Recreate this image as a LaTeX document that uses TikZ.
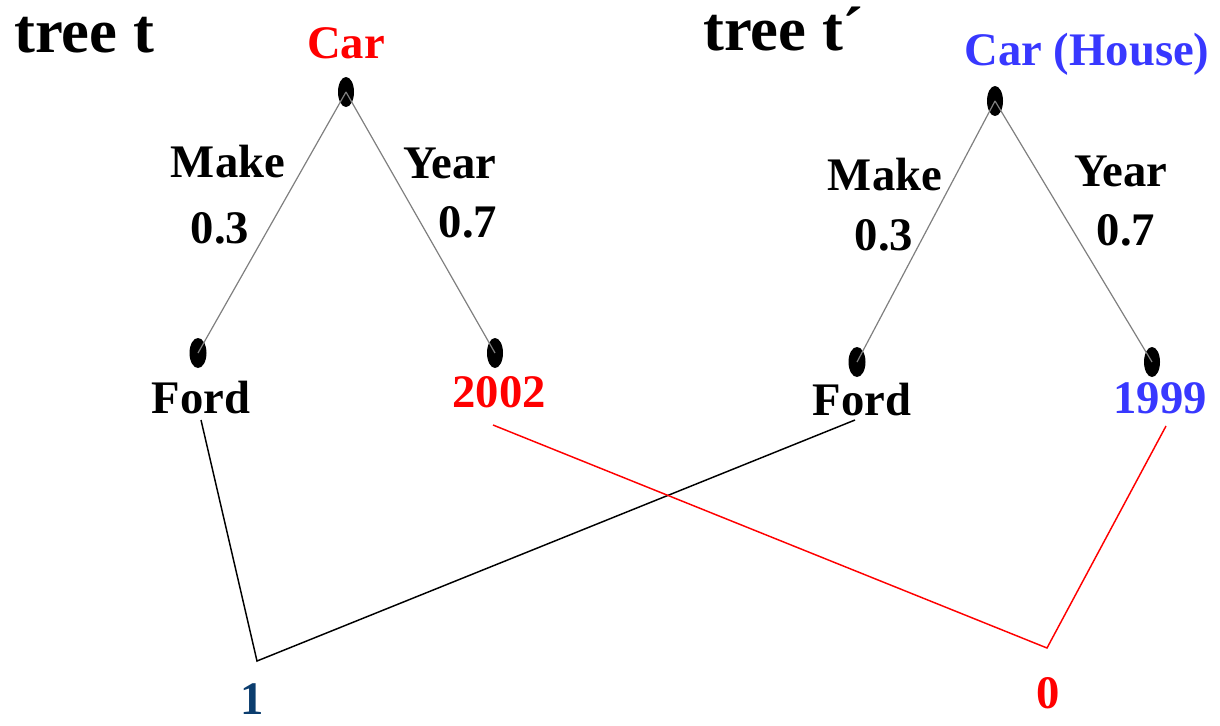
\documentclass[tikz,border=0pt]{standalone}
\usepackage{fontspec}
\setmainfont{Liberation Serif}
\definecolor{tblue}{HTML}{3838FF}
\definecolor{navy}{HTML}{0B3D6E}
\definecolor{edgegray}{HTML}{7F7F7F}
\begin{document}
\begin{tikzpicture}[x=0.75pt,y=-0.75pt,
  lbl/.style={inner sep=0pt,anchor=base,font=\fontsize{35}{40}\selectfont\bfseries},
  ttl/.style={inner sep=0pt,anchor=base west,font=\fontsize{47}{52}\selectfont\bfseries},
  treeedge/.style={draw=edgegray,line width=0.9pt},
  match/.style={line width=1.1pt}]
\useasboundingbox (0,0) rectangle (1220,725);
% titles
\node[ttl] (titleL) at (14,52) {tree t};
\node[ttl] (titleR) at (703,50) {tree t´};
% root labels
\node[lbl,text=red] (carL) at (346,58) {Car};
\node[lbl,text=tblue] (carR) at (1087,65) {Car (House)};
% dots
\fill (346,92) ellipse [x radius=8,y radius=15];
\coordinate (rootL) at (346,92);
\fill (198,353) ellipse [x radius=8.5,y radius=15];
\coordinate (fordLd) at (198,353);
\fill (495,353) ellipse [x radius=8,y radius=15];
\coordinate (yearLd) at (495,353);
\fill (995,101) ellipse [x radius=8,y radius=15];
\coordinate (rootR) at (995,101);
\fill (857,362) ellipse [x radius=8.5,y radius=15];
\coordinate (fordRd) at (857,362);
\fill (1152,362) ellipse [x radius=8,y radius=15];
\coordinate (yearRd) at (1152,362);
% tree edges
\draw[treeedge] (rootL) -- (fordLd);
\draw[treeedge] (rootL) -- (yearLd);
\draw[treeedge] (rootR) -- (fordRd);
\draw[treeedge] (rootR) -- (yearRd);
% edge labels
\node[lbl] (makeL) at (228,177) {Make};
\node[lbl] (wmL) at (220,243) {0.3};
\node[lbl] (yearL) at (450,178) {Year};
\node[lbl] (wyL) at (468,237) {0.7};
\node[lbl] (makeR) at (885,190) {Make};
\node[lbl] (wmR) at (884,250) {0.3};
\node[lbl] (yearR) at (1121,186) {Year};
\node[lbl] (wyR) at (1126,245) {0.7};
% leaf labels
\node[lbl] (fordL) at (201,413) {Ford};
\node[lbl,text=red] (y2002) at (499,407) {2002};
\node[lbl] (fordR) at (862,415) {Ford};
\node[lbl,text=tblue] (y1999) at (1160,413) {1999};
% match values
\node[lbl,text=navy] (one) at (252,714) {1};
\node[lbl,text=red] (zero) at (1048,708) {0};
% connector coordinates
\coordinate (fordLb) at (201,420);
\coordinate (oneTop) at (257,661);
\coordinate (fordRb) at (855,420);
\coordinate (y2002b) at (493,425);
\coordinate (zeroTop) at (1047,648);
\coordinate (y1999b) at (1166,426);
\draw[match] (fordLb) -- (oneTop) -- (fordRb);
\draw[match,red] (y2002b) -- (zeroTop) -- (y1999b);
\end{tikzpicture}
\end{document}
